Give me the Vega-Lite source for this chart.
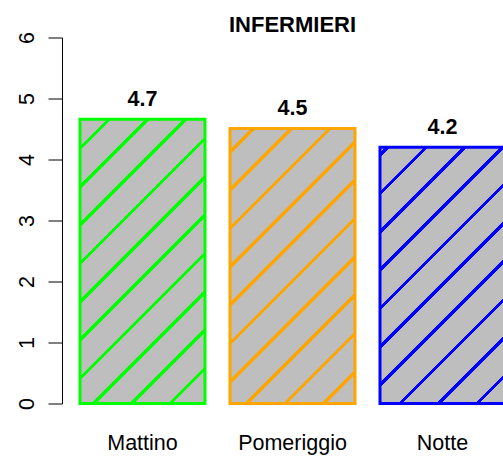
{
  "$schema": "https://vega.github.io/schema/vega-lite/v6.json",
  "autosize": {"type": "none"},
  "padding": {"left": 62, "top": 37.5, "right": 0, "bottom": 55.5},
  "width": 441,
  "height": 366,
  "background": "white",
  "title": {"text": "INFERMIERI", "font": "Liberation Sans", "fontSize": 22, "fontWeight": "bold", "color": "black", "anchor": "middle", "dx": 10, "dy": 29, "offset": 6.5, "baseline": "alphabetic"},
  "config": {
    "view": {"stroke": null},
    "axis": {"labelFont": "Liberation Sans", "labelFontSize": 21.5, "labelColor": "black", "domainColor": "black", "tickColor": "black", "grid": false, "title": null}
  },
  "data": {"values": [
    {"turno": "Mattino", "valore": 4.66},
    {"turno": "Pomeriggio", "valore": 4.51},
    {"turno": "Notte", "valore": 4.2}
  ]},
  "encoding": {
    "x": {"field": "turno", "type": "nominal", "sort": null,
      "scale": {"range": [0, 461], "paddingInner": 0.16667, "paddingOuter": 0.12},
      "axis": {"domain": false, "ticks": false, "labelPadding": 46, "labelBaseline": "alphabetic", "labelAngle": 0, "title": null}},
    "y": {"field": "valore", "type": "quantitative",
      "scale": {"domain": [0, 6], "nice": false},
      "axis": {"values": [0, 1, 2, 3, 4, 5, 6], "tickSize": 14, "tickWidth": 1, "domainWidth": 1, "labelAngle": -90, "labelAlign": "center", "labelBaseline": "alphabetic", "labelPadding": 15, "labelFlush": false, "labelOverlap": false, "title": null}}
  },
  "layer": [
    {
      "mark": {"type": "bar", "strokeWidth": 3, "strokeJoin": "miter"},
      "encoding": {
        "stroke": {"field": "turno", "type": "nominal", "sort": null, "scale": {"domain": ["Mattino", "Pomeriggio", "Notte"], "range": ["#00FF00", "#FFA500", "#0000FF"]}, "legend": null},
        "fill": {
          "condition": [
            {"test": "datum.turno === 'Mattino'", "value": {"gradient": "linear", "x1": 0, "y1": 0, "x2": 0.5305, "y2": 1.2064, "stops": [
              {"offset": 0, "color": "#BEBEBE"},
              {"offset": 0.0655, "color": "#BEBEBE"}, {"offset": 0.0655, "color": "#00FF00"}, {"offset": 0.0768, "color": "#00FF00"}, {"offset": 0.0768, "color": "#BEBEBE"},
              {"offset": 0.1592, "color": "#BEBEBE"}, {"offset": 0.1592, "color": "#00FF00"}, {"offset": 0.1705, "color": "#00FF00"}, {"offset": 0.1705, "color": "#BEBEBE"},
              {"offset": 0.2529, "color": "#BEBEBE"}, {"offset": 0.2529, "color": "#00FF00"}, {"offset": 0.2642, "color": "#00FF00"}, {"offset": 0.2642, "color": "#BEBEBE"},
              {"offset": 0.3466, "color": "#BEBEBE"}, {"offset": 0.3466, "color": "#00FF00"}, {"offset": 0.3579, "color": "#00FF00"}, {"offset": 0.3579, "color": "#BEBEBE"},
              {"offset": 0.4403, "color": "#BEBEBE"}, {"offset": 0.4403, "color": "#00FF00"}, {"offset": 0.4516, "color": "#00FF00"}, {"offset": 0.4516, "color": "#BEBEBE"},
              {"offset": 0.5340, "color": "#BEBEBE"}, {"offset": 0.5340, "color": "#00FF00"}, {"offset": 0.5453, "color": "#00FF00"}, {"offset": 0.5453, "color": "#BEBEBE"},
              {"offset": 0.6277, "color": "#BEBEBE"}, {"offset": 0.6277, "color": "#00FF00"}, {"offset": 0.6390, "color": "#00FF00"}, {"offset": 0.6390, "color": "#BEBEBE"},
              {"offset": 0.7214, "color": "#BEBEBE"}, {"offset": 0.7214, "color": "#00FF00"}, {"offset": 0.7327, "color": "#00FF00"}, {"offset": 0.7327, "color": "#BEBEBE"},
              {"offset": 0.8152, "color": "#BEBEBE"}, {"offset": 0.8152, "color": "#00FF00"}, {"offset": 0.8264, "color": "#00FF00"}, {"offset": 0.8264, "color": "#BEBEBE"},
              {"offset": 0.9089, "color": "#BEBEBE"}, {"offset": 0.9089, "color": "#00FF00"}, {"offset": 0.9201, "color": "#00FF00"}, {"offset": 0.9201, "color": "#BEBEBE"},
              {"offset": 1, "color": "#BEBEBE"}
            ]}},
            {"test": "datum.turno === 'Pomeriggio'", "value": {"gradient": "linear", "x1": 0, "y1": 0, "x2": 0.5477, "y2": 1.2055, "stops": [
              {"offset": 0, "color": "#BEBEBE"},
              {"offset": 0.0526, "color": "#BEBEBE"}, {"offset": 0.0526, "color": "#FFA500"}, {"offset": 0.0641, "color": "#FFA500"}, {"offset": 0.0641, "color": "#BEBEBE"},
              {"offset": 0.1485, "color": "#BEBEBE"}, {"offset": 0.1485, "color": "#FFA500"}, {"offset": 0.1600, "color": "#FFA500"}, {"offset": 0.1600, "color": "#BEBEBE"},
              {"offset": 0.2443, "color": "#BEBEBE"}, {"offset": 0.2443, "color": "#FFA500"}, {"offset": 0.2558, "color": "#FFA500"}, {"offset": 0.2558, "color": "#BEBEBE"},
              {"offset": 0.3402, "color": "#BEBEBE"}, {"offset": 0.3402, "color": "#FFA500"}, {"offset": 0.3517, "color": "#FFA500"}, {"offset": 0.3517, "color": "#BEBEBE"},
              {"offset": 0.4360, "color": "#BEBEBE"}, {"offset": 0.4360, "color": "#FFA500"}, {"offset": 0.4475, "color": "#FFA500"}, {"offset": 0.4475, "color": "#BEBEBE"},
              {"offset": 0.5319, "color": "#BEBEBE"}, {"offset": 0.5319, "color": "#FFA500"}, {"offset": 0.5434, "color": "#FFA500"}, {"offset": 0.5434, "color": "#BEBEBE"},
              {"offset": 0.6277, "color": "#BEBEBE"}, {"offset": 0.6277, "color": "#FFA500"}, {"offset": 0.6392, "color": "#FFA500"}, {"offset": 0.6392, "color": "#BEBEBE"},
              {"offset": 0.7236, "color": "#BEBEBE"}, {"offset": 0.7236, "color": "#FFA500"}, {"offset": 0.7351, "color": "#FFA500"}, {"offset": 0.7351, "color": "#BEBEBE"},
              {"offset": 0.8194, "color": "#BEBEBE"}, {"offset": 0.8194, "color": "#FFA500"}, {"offset": 0.8309, "color": "#FFA500"}, {"offset": 0.8309, "color": "#BEBEBE"},
              {"offset": 0.9153, "color": "#BEBEBE"}, {"offset": 0.9153, "color": "#FFA500"}, {"offset": 0.9268, "color": "#FFA500"}, {"offset": 0.9268, "color": "#BEBEBE"},
              {"offset": 1, "color": "#BEBEBE"}
            ]}}
          ],
          "value": {"gradient": "linear", "x1": 0, "y1": 0, "x2": 0.5864, "y2": 1.2018, "stops": [
            {"offset": 0, "color": "#BEBEBE"},
            {"offset": 0.0146, "color": "#BEBEBE"}, {"offset": 0.0146, "color": "#0000FF"}, {"offset": 0.0266, "color": "#0000FF"}, {"offset": 0.0266, "color": "#BEBEBE"},
            {"offset": 0.1152, "color": "#BEBEBE"}, {"offset": 0.1152, "color": "#0000FF"}, {"offset": 0.1272, "color": "#0000FF"}, {"offset": 0.1272, "color": "#BEBEBE"},
            {"offset": 0.2158, "color": "#BEBEBE"}, {"offset": 0.2158, "color": "#0000FF"}, {"offset": 0.2278, "color": "#0000FF"}, {"offset": 0.2278, "color": "#BEBEBE"},
            {"offset": 0.3164, "color": "#BEBEBE"}, {"offset": 0.3164, "color": "#0000FF"}, {"offset": 0.3284, "color": "#0000FF"}, {"offset": 0.3284, "color": "#BEBEBE"},
            {"offset": 0.4170, "color": "#BEBEBE"}, {"offset": 0.4170, "color": "#0000FF"}, {"offset": 0.4290, "color": "#0000FF"}, {"offset": 0.4290, "color": "#BEBEBE"},
            {"offset": 0.5176, "color": "#BEBEBE"}, {"offset": 0.5176, "color": "#0000FF"}, {"offset": 0.5296, "color": "#0000FF"}, {"offset": 0.5296, "color": "#BEBEBE"},
            {"offset": 0.6182, "color": "#BEBEBE"}, {"offset": 0.6182, "color": "#0000FF"}, {"offset": 0.6302, "color": "#0000FF"}, {"offset": 0.6302, "color": "#BEBEBE"},
            {"offset": 0.7188, "color": "#BEBEBE"}, {"offset": 0.7188, "color": "#0000FF"}, {"offset": 0.7309, "color": "#0000FF"}, {"offset": 0.7309, "color": "#BEBEBE"},
            {"offset": 0.8194, "color": "#BEBEBE"}, {"offset": 0.8194, "color": "#0000FF"}, {"offset": 0.8314, "color": "#0000FF"}, {"offset": 0.8314, "color": "#BEBEBE"},
            {"offset": 0.9200, "color": "#BEBEBE"}, {"offset": 0.9200, "color": "#0000FF"}, {"offset": 0.9321, "color": "#0000FF"}, {"offset": 0.9321, "color": "#BEBEBE"},
            {"offset": 1, "color": "#BEBEBE"}
          ]}
        }
      }
    },
    {
      "mark": {"type": "text", "dy": -13, "baseline": "alphabetic", "font": "Liberation Sans", "fontSize": 21.5, "fontWeight": "bold", "color": "black"},
      "encoding": {
        "text": {"field": "valore", "type": "quantitative", "format": ".1f"}
      }
    }
  ]
}
